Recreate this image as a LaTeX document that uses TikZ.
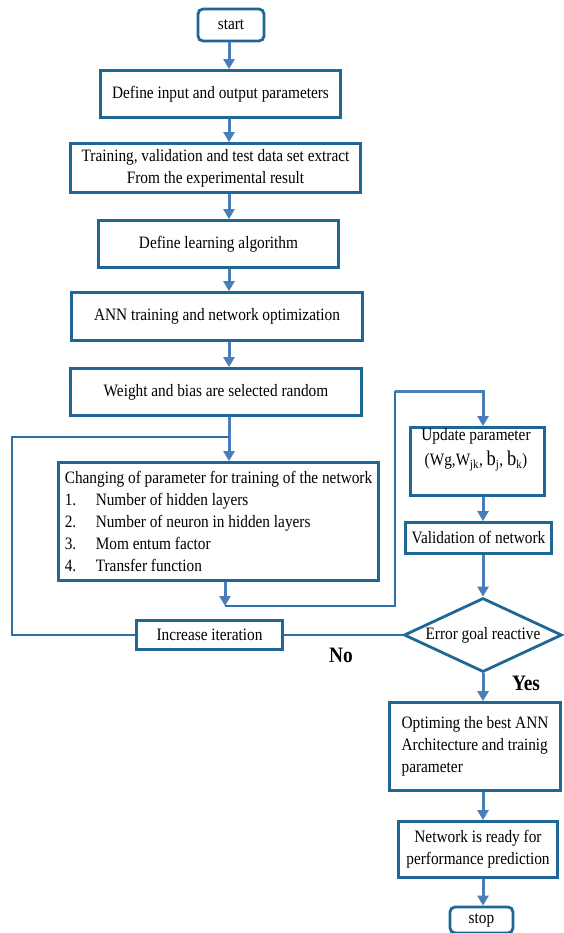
\documentclass[tikz,border=0pt]{standalone}
\usepackage{fontspec}
\setmainfont[FakeStretch=0.88]{Liberation Serif}
\usetikzlibrary{arrows.meta,shapes.geometric,calc}
\definecolor{boxblue}{RGB}{31,104,150}
\definecolor{arrblue}{RGB}{74,126,187}
\definecolor{lnblue}{RGB}{46,112,170}
\begin{document}
\begin{tikzpicture}[x=1pt,y=-1pt,
  font=\fontsize{17.4}{22}\selectfont,
  box/.style={draw=boxblue,line width=2.8pt,align=center,inner sep=3pt},
  arr/.style={draw=arrblue,line width=3pt,-{Triangle[width=11pt,length=10pt]}},
  ln/.style={draw=lnblue,line width=2.2pt},
  lbl/.style={font=\bfseries\fontsize{22}{24}\selectfont}]
\fill[white] (0,0) rectangle (563,933);
\useasboundingbox (0,0) rectangle (563,933);
\coordinate (colA) at (229,0);
\coordinate (colB) at (483,0);

\node[box,rounded corners=5pt,minimum width=66,minimum height=32] (start) at (231,25) {start};
\node[box,minimum width=240,minimum height=47] (b1) at (220.5,94) {Define input and output parameters};
\node[box,minimum width=290,minimum height=49] (b2) at (215.5,168) {Training, validation and test data set extract\\From the experimental result};
\node[box,minimum width=240,minimum height=47] (b3) at (218.5,244) {Define learning algorithm};
\node[box,minimum width=291,minimum height=48] (b4) at (217,316.5) {ANN training and network optimization};
\node[box,minimum width=291,minimum height=47] (b5) at (216,392) {Weight and bias are selected random};
\node[box,minimum width=320,minimum height=118,align=left] (b6) at (218.5,521.5) {Changing of parameter for training of the network\\
\makebox[31pt][l]{1.}Number of hidden layers\\
\makebox[31pt][l]{2.}Number of neuron in hidden layers\\
\makebox[31pt][l]{3.}Mom entum factor\\
\makebox[31pt][l]{4.}Transfer function};
\node[box,minimum width=146,minimum height=29] (inc) at (209.5,635) {Increase iteration};

\node[box,minimum width=134,minimum height=68] (upd) at (477.5,461.5) {};
\node[align=center,font=\fontsize{17.4}{25}\selectfont] (updt) at (476,450) {Update parameter\\(Wg,W\textsubscript{jk}, {\fontsize{21}{22}\selectfont b}\textsubscript{j}, {\fontsize{21}{22}\selectfont b}\textsubscript{k})};
\node[box,minimum width=146,minimum height=31] (val) at (478.5,538) {Validation of network};
\node[diamond,draw=boxblue,line width=2.8pt,aspect=2.1,inner sep=0pt,minimum width=158,minimum height=74] (dia) at (483,635) {Error goal reactive};
\node[box,minimum width=171,minimum height=88,align=left] (opt) at (475,746.5) {Optiming the best ANN\\Architecture and trainig\\parameter};
\node[box,minimum width=159,minimum height=56] (net) at (478,849.5) {Network is ready for\\performance prediction};
\node[box,rounded corners=5pt,minimum width=63,minimum height=26] (stop) at (481.5,920) {stop};

\node[lbl] (no) at (341,655) {No};
\node[lbl] (yes) at (526,683) {Yes};

\draw[arr] (start.south -| colA) -- (b1.north -| colA);
\draw[arr] (b1.south -| colA) -- (b2.north -| colA);
\draw[arr] (b2.south -| colA) -- (b3.north -| colA);
\draw[arr] (b3.south -| colA) -- (b4.north -| colA);
\draw[arr] (b4.south -| colA) -- (b5.north -| colA);
\draw[arr] (b5.south -| colA) -- (b6.north -| colA);

\coordinate (lx) at (12,437);
\coordinate (join) at (229,437);
\draw[ln] (inc.west) -| (lx) -- (join);

\coordinate (c6) at (225,606);
\coordinate (rt) at (395,391);
\draw[arr] (b6.south -| c6) -- (c6);
\draw[ln] (c6) -| (rt);
\draw[arr] (rt) -| (upd.north -| colB);

\draw[arr] (upd.south -| colB) -- (val.north -| colB);
\draw[arr] (val.south -| colB) -- (dia.north);
\draw[ln] (dia.west) -- (inc.east);
\draw[arr] (dia.south) -- (opt.north -| colB);
\draw[arr] (opt.south -| colB) -- (net.north -| colB);
\draw[arr] (net.south -| colB) -- (stop.north -| colB);
\end{tikzpicture}
\end{document}
